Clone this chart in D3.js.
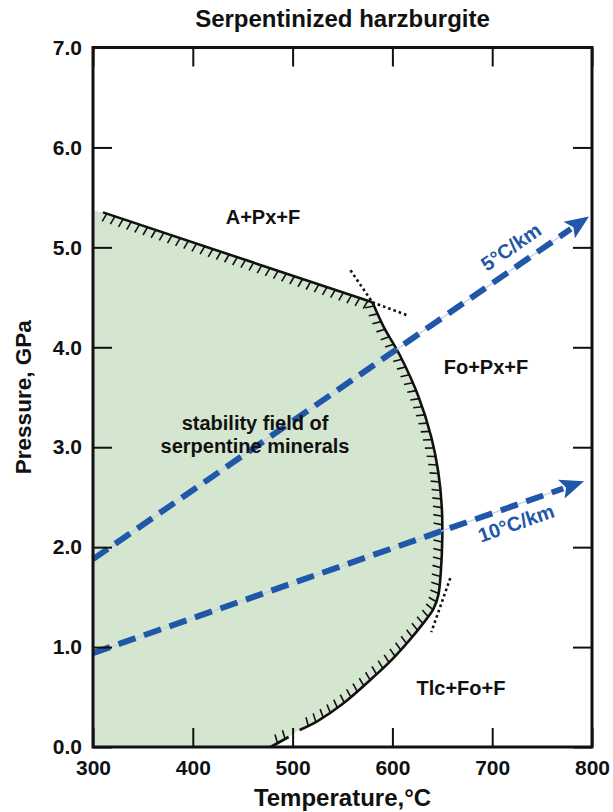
<!DOCTYPE html>
<html>
<head>
<meta charset="utf-8">
<script src="https://cdn.jsdelivr.net/npm/d3@7"></script>
<style>
  body { margin: 0; background: #fff; }
  svg text { font-family: "Liberation Sans", Arial, sans-serif; font-weight: bold; fill: #111; }
</style>
</head>
<body>
<div id="chart"></div>
<script>
// axis ticks
const xTicks = [300, 400, 500, 600, 700, 800];
const yTicks = [0, 1, 2, 3, 4, 5, 6, 7];

// phase boundary of serpentine stability (T in °C, P in GPa)
const upperT = [310, 580];
const upperP = [5.35, 4.45];
const rightT = [580, 591, 608, 626, 639, 646, 649.5, 650, 648.5, 646];
const rightP = [4.45, 4.21, 3.91, 3.51, 3.10, 2.75, 2.40, 2.10, 1.75, 1.52];
const lowerT = [641, 631, 618, 600, 581, 550, 525, 507];
const lowerP = [1.38, 1.24, 1.08, 0.88, 0.70, 0.43, 0.26, 0.17];
const bottomT = [496, 478];
const bottomP = [0.10, 0.0];

// dotted metastable extensions
const dotted = [
  [[558, 4.77], [582, 4.42]],
  [[580, 4.45], [615, 4.32]],
  [[658, 1.69], [639, 1.15]]
];

// geotherms
const geoNames = ["5°C/km", "10°C/km"];
const geoStart = [[300, 1.88], [300, 0.94]];
const geoEnd = [[797, 5.31], [792, 2.66]];
const geoLabelAt = [[511, 247], [516, 523]];

// region labels
const regionLabels = ["A+Px+F", "Fo+Px+F", "Tlc+Fo+F", "stability field of", "serpentine minerals"];
const regionPos = [[263, 224], [486, 374], [461, 695], [255, 430], [255, 453]];

const width = 613, height = 812;
const svg = d3.select("#chart").append("svg")
  .attr("width", width)
  .attr("height", height);

const x = d3.scaleLinear().domain([300, 800]).range([93, 592]);
const y = d3.scaleLinear().domain([0, 7]).range([747, 47.5]);

const zip = (a, b) => a.map((v, i) => [v, b[i]]);
const upper = zip(upperT, upperP);
const curvePts = zip(rightT, rightP).concat(zip(lowerT, lowerP));
const bottom = zip(bottomT, bottomP);

const smooth = d3.line().x(d => x(d[0])).y(d => y(d[1])).curve(d3.curveCatmullRom.alpha(0.5));
const straight = d3.line().x(d => x(d[0])).y(d => y(d[1]));

// green stability field
const fillD = `M${x(300)},${y(0)}L${x(300)},${y(5.37)}`
  + straight(upper).replace(/^M/, "L")
  + smooth(curvePts).replace(/^M/, "L")
  + straight(bottom).replace(/^M/, "L") + "Z";
svg.append("path")
  .attr("d", fillD)
  .attr("fill", "#d4e6d0")
  .attr("stroke", "none");

// boundary lines with hatches on the serpentine side
function hatched(d) {
  const p = svg.append("path")
    .attr("d", d)
    .attr("fill", "none")
    .attr("stroke", "#111")
    .attr("stroke-width", 2.6)
    .attr("stroke-linejoin", "round");
  const node = p.node();
  const len = node.getTotalLength();
  const step = 8.6, hl = 9, tilt = -12 * Math.PI / 180;
  for (let s = 4; s < len - 2; s += step) {
    const a = node.getPointAtLength(Math.max(0, s - 0.7));
    const b = node.getPointAtLength(Math.min(len, s + 0.7));
    const c = node.getPointAtLength(s);
    let tx = b.x - a.x, ty = b.y - a.y;
    const m = Math.hypot(tx, ty); tx /= m; ty /= m;
    const nx = -ty, ny = tx;
    const dx = nx * Math.cos(tilt) + tx * Math.sin(tilt);
    const dy = ny * Math.cos(tilt) + ty * Math.sin(tilt);
    svg.append("line")
      .attr("x1", c.x).attr("y1", c.y)
      .attr("x2", c.x + dx * hl).attr("y2", c.y + dy * hl)
      .attr("stroke", "#111")
      .attr("stroke-width", 1.6);
  }
}
hatched(straight(upper));
hatched(smooth(curvePts));
hatched(straight(bottom));

svg.selectAll(".dot")
  .data(dotted)
  .enter().append("path")
  .attr("d", straight)
  .attr("fill", "none")
  .attr("stroke", "#111")
  .attr("stroke-width", 2.6)
  .attr("stroke-dasharray", "2.6,3");

// geotherms: thin pale core + thick blue dashes + arrowhead
const blue = "#2157a8";
geoStart.forEach((s, i) => {
  const e = geoEnd[i];
  const x0 = x(s[0]), y0 = y(s[1]), x1 = x(e[0]), y1 = y(e[1]);
  const L = Math.hypot(x1 - x0, y1 - y0);
  const ux = (x1 - x0) / L, uy = (y1 - y0) / L;
  const al = 24, aw = 10;
  const bx = x1 - ux * al, by = y1 - uy * al;
  svg.append("line")
    .attr("x1", x0).attr("y1", y0).attr("x2", bx).attr("y2", by)
    .attr("stroke", "#c4d0df").attr("stroke-width", 1.3);
  svg.append("line")
    .attr("x1", x0).attr("y1", y0).attr("x2", bx + ux * 2).attr("y2", by + uy * 2)
    .attr("stroke", blue).attr("stroke-width", 6)
    .attr("stroke-dasharray", "18,9");
  svg.append("path")
    .attr("d", `M${x1},${y1}L${bx - uy * aw},${by + ux * aw}L${bx + ux * 5},${by + uy * 5}L${bx + uy * aw},${by - ux * aw}Z`)
    .attr("fill", blue);
  const ang = Math.atan2(y1 - y0, x1 - x0) * 180 / Math.PI;
  svg.append("text")
    .attr("transform", `translate(${geoLabelAt[i][0]},${geoLabelAt[i][1]}) rotate(${ang})`)
    .attr("text-anchor", "middle")
    .attr("dy", "0.35em")
    .style("font-size", "20px")
    .style("fill", blue)
    .text(geoNames[i]);
});

// region labels
svg.selectAll(".region")
  .data(regionLabels)
  .enter().append("text")
  .attr("x", (d, i) => regionPos[i][0])
  .attr("y", (d, i) => regionPos[i][1])
  .attr("text-anchor", "middle")
  .style("font-size", "20px")
  .text(d => d);

// axes with inward ticks
const tk = -19;
const bottomAxis = svg.append("g").attr("transform", `translate(0,${y(0)})`)
  .call(d3.axisBottom(x).tickValues(xTicks).tickSizeInner(tk).tickSizeOuter(0).tickPadding(13).tickFormat(d3.format("d")));
const leftAxis = svg.append("g").attr("transform", `translate(${x(300)},0)`)
  .call(d3.axisLeft(y).tickValues(yTicks).tickSizeInner(tk).tickSizeOuter(0).tickPadding(11).tickFormat(d3.format(".1f")));
const topAxis = svg.append("g").attr("transform", `translate(0,${y(7)})`)
  .call(d3.axisTop(x).tickValues(xTicks).tickSizeInner(tk).tickSizeOuter(0).tickFormat(""));
const rightAxis = svg.append("g").attr("transform", `translate(${x(800)},0)`)
  .call(d3.axisRight(y).tickValues(yTicks).tickSizeInner(tk).tickSizeOuter(0).tickFormat(""));

[bottomAxis, leftAxis, topAxis, rightAxis].forEach(g => {
  g.select(".domain").remove();
  g.selectAll(".tick line").attr("stroke", "#111").attr("stroke-width", 2);
  g.selectAll("text").style("font-size", "21px").attr("fill", "#111")
    .style("font-family", "'Liberation Sans', Arial, sans-serif").style("font-weight", "bold");
});

// frame
svg.append("rect")
  .attr("x", x(300)).attr("y", y(7))
  .attr("width", x(800) - x(300)).attr("height", y(0) - y(7))
  .attr("fill", "none")
  .attr("stroke", "#111")
  .attr("stroke-width", 3);

// titles
svg.append("text")
  .attr("x", (x(300) + x(800)) / 2).attr("y", 27)
  .attr("text-anchor", "middle")
  .style("font-size", "24px")
  .text("Serpentinized harzburgite");

svg.append("text")
  .attr("x", (x(300) + x(800)) / 2).attr("y", 806)
  .attr("text-anchor", "middle")
  .style("font-size", "24px")
  .text("Temperature,°C");

svg.append("text")
  .attr("transform", `translate(31,${(y(0) + y(7)) / 2}) rotate(-90)`)
  .attr("text-anchor", "middle")
  .style("font-size", "22.5px")
  .text("Pressure, GPa");
</script>
</body>
</html>
